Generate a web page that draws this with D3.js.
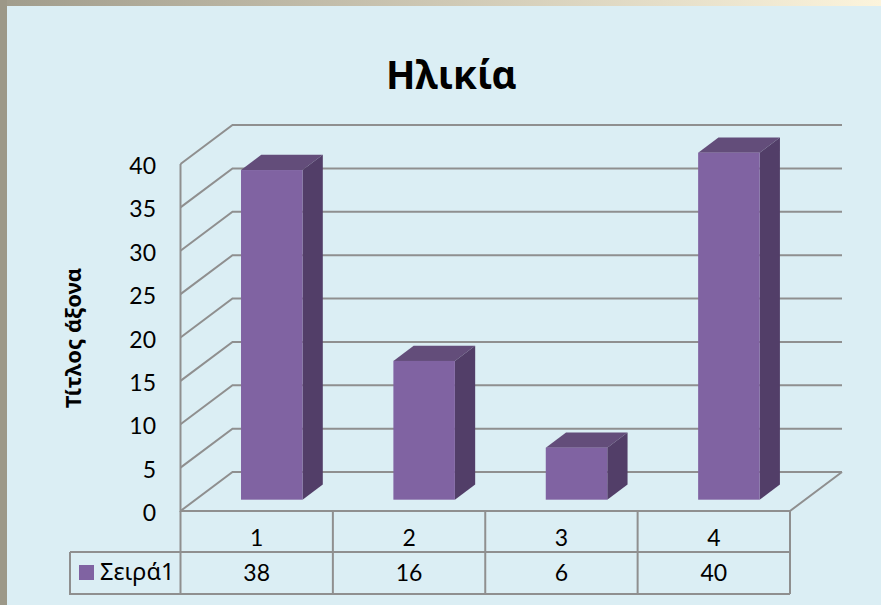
<!DOCTYPE html>
<html>
<head>
<meta charset="utf-8">
<script src="https://cdnjs.cloudflare.com/ajax/libs/d3/7.8.5/d3.min.js"></script>
<style>
html, body { margin: 0; padding: 0; background: #dbeef4; }
svg { display: block; }
text { font-family: Lato, "Open Sans", sans-serif; fill: #000; }
.greek { font-family: "Noto Sans", "Open Sans", sans-serif; }
</style>
</head>
<body>
<svg id="chart" width="881" height="605"></svg>
<script>
var categories = ['1', '2', '3', '4'];
var values = [38, 16, 6, 40];
var yTicks = [0, 5, 10, 15, 20, 25, 30, 35, 40];
var seriesName = 'Σειρά1';
var chartTitle = 'Ηλικία';
var axisTitle = 'Τίτλος άξονα';

var svg = d3.select('#chart');

var defs = svg.append('defs');
var topGrad = defs.append('linearGradient').attr('id', 'topStrip');
topGrad.append('stop').attr('offset', '0%').attr('stop-color', '#a09c8c');
topGrad.append('stop').attr('offset', '100%').attr('stop-color', '#fcf4dc');

svg.append('rect').attr('width', 881).attr('height', 6).attr('fill', 'url(#topStrip)');
svg.append('rect').attr('width', 7).attr('height', 605).attr('fill', '#9c9888');

// front plane of the 3d box
var x = d3.scaleBand().domain(categories).range([180.5, 790]);
var y = d3.scaleLinear().domain([0, 40]).range([511, 164]);
// depth goes from front (0) to back wall (1)
var depthX = d3.scaleLinear().domain([0, 1]).range([0, 52]);
var depthY = d3.scaleLinear().domain([0, 1]).range([0, -39]);

var gridColor = '#8f8f8f';
var grid = svg.append('g').attr('fill', 'none').attr('stroke', gridColor).attr('stroke-width', 2);

yTicks.forEach(function (t) {
    var pts = [[x.range()[0], y(t)], [x.range()[0] + depthX(1), y(t) + depthY(1)], [x.range()[1] + depthX(1), y(t) + depthY(1)]];
    grid.append('path').attr('d', d3.line()(pts));
});
grid.append('path').attr('d', d3.line()([[x.range()[0], y(40)], [x.range()[0], y(0)], [x.range()[1], y(0)], [x.range()[1] + depthX(1), y(0) + depthY(1)]]));

// bars
var zFront = 0.29, zBack = 0.68;
var barW = 61.5;
var bars = svg.append('g').selectAll('g').data(values).enter().append('g');

function barX(d, i) { return x(categories[i]) + x.bandwidth() / 2 - barW / 2 + depthX(zFront); }
function topY(d) { return y(d) + depthY(zFront); }
function baseY() { return y(0) + depthY(zFront); }
var dx = depthX(zBack) - depthX(zFront);
var dy = depthY(zBack) - depthY(zFront);

bars.append('path')
    .attr('fill', '#634d7a')
    .attr('d', function (d, i) {
        var l = barX(d, i), t = topY(d);
        return d3.line()([[l, t], [l + dx, t + dy], [l + barW + dx, t + dy], [l + barW, t]]) + 'Z';
    });
bars.append('path')
    .attr('fill', '#523e68')
    .attr('d', function (d, i) {
        var r = barX(d, i) + barW, t = topY(d);
        return d3.line()([[r, t], [r + dx, t + dy], [r + dx, baseY() + dy], [r, baseY()]]) + 'Z';
    });
bars.append('rect')
    .attr('fill', '#8063a2')
    .attr('x', barX)
    .attr('y', topY)
    .attr('width', barW)
    .attr('height', function (d) { return baseY() - topY(d); });

// y tick labels
svg.append('g').selectAll('text').data(yTicks).enter().append('text')
    .attr('x', 156)
    .attr('y', function (d) { return y(d); })
    .attr('dy', 10)
    .attr('text-anchor', 'end')
    .attr('font-size', 23)
    .text(function (d) { return d; });

// data table
var rowTop = 552, rowBottom = 594, tableLeft = 70;
var table = svg.append('g').attr('fill', 'none').attr('stroke', gridColor).attr('stroke-width', 2);
table.append('path').attr('d', d3.line()([[tableLeft, rowTop], [790, rowTop]]));
table.append('path').attr('d', d3.line()([[tableLeft, rowTop], [tableLeft, rowBottom], [790, rowBottom]]));
categories.forEach(function (c) {
    table.append('path').attr('d', d3.line()([[x(c), y(0)], [x(c), rowBottom]]));
});
table.append('path').attr('d', d3.line()([[790, y(0)], [790, rowBottom]]));

svg.append('g').selectAll('text').data(categories).enter().append('text')
    .attr('x', function (d) { return x(d) + x.bandwidth() / 2; })
    .attr('y', 546)
    .attr('text-anchor', 'middle')
    .attr('font-size', 23)
    .text(function (d) { return d; });
svg.append('g').selectAll('text').data(values).enter().append('text')
    .attr('x', function (d, i) { return x(categories[i]) + x.bandwidth() / 2; })
    .attr('y', 581)
    .attr('text-anchor', 'middle')
    .attr('font-size', 23)
    .text(function (d) { return d; });

svg.append('rect').attr('x', 79).attr('y', 565).attr('width', 15).attr('height', 15).attr('fill', '#8063a2');
svg.append('text').attr('class', 'greek').attr('x', 100).attr('y', 580).attr('font-size', 23.5).text(seriesName);

// titles
svg.append('text').attr('class', 'greek').attr('x', 451.5).attr('y', 89).attr('text-anchor', 'middle')
    .attr('font-size', 38.5).attr('font-weight', 'bold').text(chartTitle);
svg.append('text').attr('class', 'greek')
    .attr('transform', 'translate(81,338) rotate(-90)')
    .attr('text-anchor', 'middle')
    .attr('font-size', 22).attr('font-weight', 'bold').text(axisTitle);
</script>
</body>
</html>
